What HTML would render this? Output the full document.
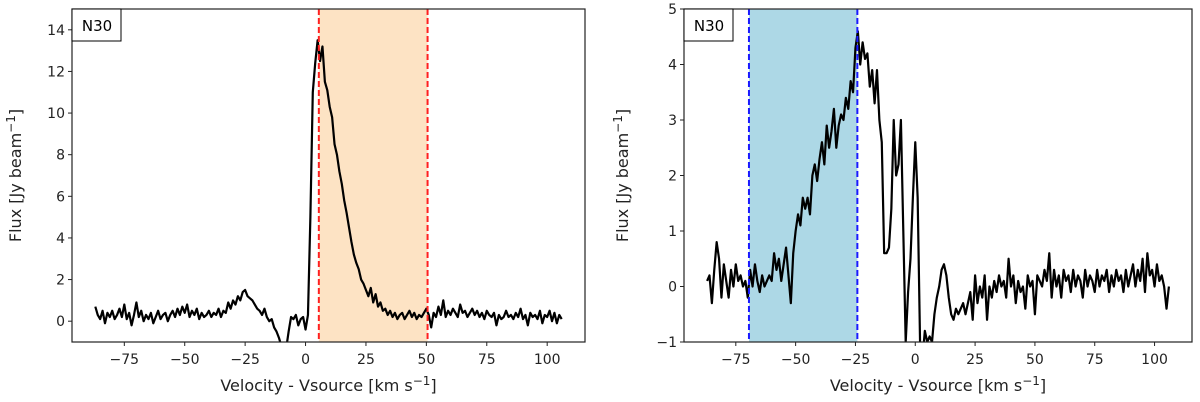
<!DOCTYPE html>
<html><head><meta charset="utf-8">
<style>
html,body{margin:0;padding:0;background:#fff;}
svg{display:block;font-family:"DejaVu Sans","Liberation Sans",sans-serif;}
</style></head>
<body>
<svg id="fig" width="1200" height="402" viewBox="0 0 1200 402" xmlns="http://www.w3.org/2000/svg"></svg>
<script>
const velStart = -87;
const leftFlux = [0.7,0.3,0.1,0.5,-0.1,0.4,0.2,0.5,0.1,0.3,0.6,0.2,0.8,0.1,0.4,-0.2,0.3,0.9,0.2,0.5,0.0,0.3,0.1,0.4,-0.1,0.2,0.5,0.1,0.3,0.4,0.0,0.3,0.5,0.2,0.6,0.3,0.7,0.4,0.8,0.2,0.5,0.3,0.6,0.1,0.4,0.2,0.3,0.5,0.2,0.4,0.3,0.6,0.2,0.5,0.4,0.9,0.6,1.0,0.8,1.2,1.0,1.4,1.5,1.2,1.1,1.0,0.8,0.6,0.5,0.3,0.6,0.2,0.0,0.1,-0.3,-0.5,-0.8,-1.2,-1.1,-1.3,-0.5,0.2,0.1,0.3,-0.2,0.1,0.2,-0.4,0.3,5,11,12.4,13.5,12.5,13.2,11.5,11.1,10.3,9.8,8.5,8.0,7.2,6.6,5.8,5.2,4.5,3.8,3.2,2.8,2.5,2.0,1.8,1.5,1.2,1.6,0.9,1.3,0.7,0.9,0.5,0.6,0.3,0.5,0.2,0.4,0.1,0.3,0.4,0.1,0.3,0.5,0.2,0.4,0.1,0.3,0.2,0.4,0.6,0.3,-0.3,0.4,0.2,0.7,0.3,1.0,0.2,0.5,0.3,0.6,0.4,0.2,0.8,0.4,0.5,0.2,0.4,0.6,0.3,0.5,0.2,0.4,0.1,0.5,0.3,0.2,0.4,-0.2,0.3,0.1,0.2,0.5,0.2,0.3,0.1,0.4,0.2,0.6,0.1,0.3,-0.2,0.4,0.2,0.3,0.1,0.5,-0.1,0.3,0.2,0.5,0.0,0.4,-0.1,0.3,0.1];
const rightFlux = [0.1,0.2,-0.3,0.3,0.8,0.5,-0.2,0.4,0.1,-0.2,0.3,0.0,0.4,0.1,0.2,0.0,0.1,-0.2,0.3,0.0,0.4,0.1,-0.1,0.2,0.0,0.1,0.2,0.1,0.6,0.3,0.5,0.1,0.4,0.7,0.2,-0.3,0.6,1.0,1.3,1.1,1.6,1.4,1.6,1.3,2.0,2.2,1.9,2.3,2.6,2.2,2.9,2.5,2.8,3.2,2.5,2.9,3.1,3.0,3.4,3.2,3.7,3.5,4.3,4.6,4.0,4.4,4.1,4.2,3.6,3.9,3.3,3.9,3.0,2.6,0.6,0.6,0.7,1.4,3.0,2.0,2.2,3.0,1.0,-1.0,-0.1,0.5,1.6,2.6,1.6,-1.0,-1.3,-0.8,-1.0,-0.9,-1.0,-0.5,-0.2,0.0,0.3,0.4,0.2,-0.2,-0.5,-0.6,-0.4,-0.5,-0.4,-0.3,-0.5,-0.3,-0.1,-0.6,0.2,-0.3,0.0,-0.2,0.2,-0.6,0.0,-0.2,0.1,-0.1,0.2,0.0,0.1,-0.2,0.5,0.0,0.2,-0.3,0.1,-0.1,0.0,-0.4,0.2,0.0,0.1,-0.5,0.2,0.1,0.0,0.3,0.1,0.6,-0.2,0.3,0.0,0.2,-0.2,0.3,0.1,0.2,-0.1,0.3,0.0,0.2,0.1,-0.2,0.3,0.0,0.2,0.1,-0.1,0.3,0.0,0.2,0.1,0.3,-0.1,0.2,0.0,0.3,0.1,0.2,-0.1,0.3,0.0,0.2,0.4,0.0,0.3,0.1,0.5,-0.1,0.6,0.2,0.3,0.0,0.4,0.1,0.2,0.0,-0.4,0.0];
const xTicks = [-75,-50,-25,0,25,50,75,100];
const leftYTicks = [0,2,4,6,8,10,12,14];
const rightYTicks = [-1,0,1,2,3,4,5];
const leftBand = [5.5,50.5];
const rightBand = [-69.5,-24.2];

const NS="http://www.w3.org/2000/svg";
const svg=document.getElementById('fig');
function mk(tag,attrs,parent){const e=document.createElementNS(NS,tag);for(const k in attrs)e.setAttribute(k,attrs[k]);(parent||svg).appendChild(e);return e;}

function panel(o){
  const g=mk('g',{});
  
  
  const xs=v=>o.x0+(v-o.xmin)/(o.xmax-o.xmin)*(o.x1-o.x0);
  const ys=v=>o.y1-(v-o.ymin)/(o.ymax-o.ymin)*(o.y1-o.y0);
  const cid='clip'+o.name;
  const cp=mk('clipPath',{id:cid},g);
  mk('rect',{x:o.x0,y:o.y0,width:o.x1-o.x0,height:o.y1-o.y0},cp);
  const band=mk('rect',{x:xs(o.band[0]),y:o.y0,width:xs(o.band[1])-xs(o.band[0]),height:o.y1-o.y0,fill:o.bandColor},g);
  
  
  let d='';
  o.flux.forEach((f,i)=>{d+=(i?'L':'M')+xs(velStart+i).toFixed(2)+','+ys(f).toFixed(2);});
  const line=mk('path',{d:d,fill:'none',stroke:'#000','stroke-width':2.2,'stroke-linejoin':'round','clip-path':'url(#'+cid+')'},g);
  
  
  o.band.forEach(b=>{
    const l=mk('line',{x1:xs(b),x2:xs(b),y1:o.y0,y2:o.y1,stroke:o.dashColor,'stroke-width':2,'stroke-dasharray':'6,3'},g);
    
    
  });
  const fr=mk('rect',{x:o.x0,y:o.y0,width:o.x1-o.x0,height:o.y1-o.y0,fill:'none',stroke:'#222','stroke-width':1.2},g);
  
  
  xTicks.forEach(t=>{
    const x=xs(t);
    mk('line',{x1:x,x2:x,y1:o.y1,y2:o.y1+4,stroke:'#222'},g);
    const tx=mk('text',{x:x,y:o.y1+22,'text-anchor':'middle','font-size':14,fill:'#222'},g);
    tx.textContent=t<0?'\u2212'+(-t):String(t);
    
    
  });
  o.yTicks.forEach(t=>{
    const y=ys(t);
    mk('line',{x1:o.x0-4,x2:o.x0,y1:y,y2:y,stroke:'#222'},g);
    const tx=mk('text',{x:o.x0-7,y:y+5,'text-anchor':'end','font-size':14,fill:'#222'},g);
    tx.textContent=t<0?'\u2212'+(-t):String(t);
    
    
  });
  const xl=mk('text',{x:(o.x0+o.x1)/2,y:391,'text-anchor':'middle','font-size':16,fill:'#222'},g);
  xl.innerHTML='Velocity - Vsource [km s<tspan dy="-6" font-size="12">\u22121</tspan><tspan dy="6">]</tspan>';
  
  
  const yl=mk('text',{x:0,y:0,'text-anchor':'middle','font-size':16,fill:'#222',transform:'translate('+o.ylx+','+((o.y0+o.y1)/2)+') rotate(-90)'},g);
  yl.innerHTML='Flux [Jy beam<tspan dy="-6" font-size="12">\u22121</tspan><tspan dy="6">]</tspan>';
  
  
  const lb=mk('rect',{x:o.x0,y:o.y0,width:49,height:32,fill:'#fff',stroke:'#000','stroke-width':1},g);
  
  
  const lt=mk('text',{x:o.x0+25,y:o.y0+22,'text-anchor':'middle','font-size':15,fill:'#000'},g);
  lt.textContent='N30';
  
  
}
panel({name:'left-panel',x0:72,x1:585,y0:9,y1:342,xmin:-96.65,xmax:115.65,ymin:-1,ymax:15,flux:leftFlux,yTicks:leftYTicks,band:leftBand,bandColor:'#fde3c4',dashColor:'#ff2020',ylx:21});
panel({name:'right-panel',x0:684,x1:1192,y0:9,y1:342,xmin:-96.65,xmax:115.65,ymin:-1,ymax:5,flux:rightFlux,yTicks:rightYTicks,band:rightBand,bandColor:'#add8e6',dashColor:'#1a1aff',ylx:628});
</script>
</body></html>
